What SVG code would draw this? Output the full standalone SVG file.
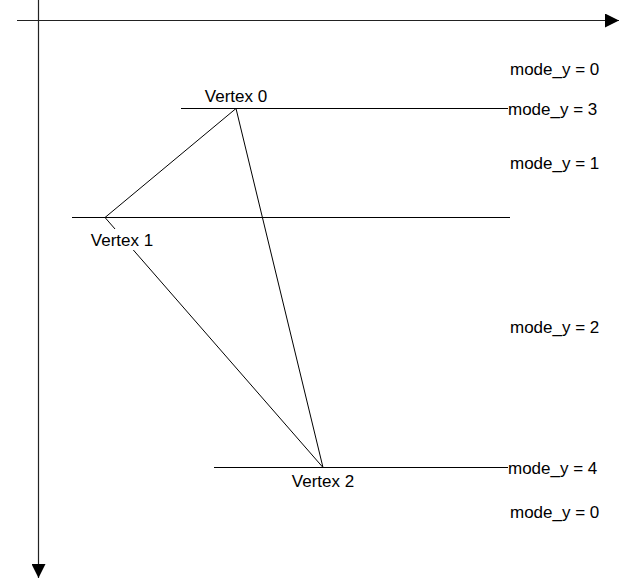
<svg xmlns="http://www.w3.org/2000/svg" width="625" height="578" viewBox="0 0 625 578">
  <style>
    .ln { stroke: #000; stroke-width: 1; fill: none; }
    .ax { stroke: #222; stroke-width: 1.2; fill: none; }
    .t { font-family: "Liberation Sans", Arial, sans-serif; font-size: 17px; fill: #000; }
    .lbl { fill: #fff; }
  </style>
  <defs>
    <marker id="ah" markerWidth="14" markerHeight="14" refX="14" refY="7" orient="auto" markerUnits="userSpaceOnUse">
      <path d="M0,0 L14,7 L0,14 Z" fill="#000"/>
    </marker>
  </defs>

  <!-- axes -->
  <g id="axes">
    <line class="ax" x1="17" y1="20.5" x2="619" y2="20.5" marker-end="url(#ah)"/>
    <line class="ax" x1="38.5" y1="0" x2="38.5" y2="578" marker-end="url(#ah)"/>
  </g>

  <!-- scanline levels -->
  <g id="levels">
    <line class="ln" x1="181" y1="108.5" x2="508" y2="108.5"/>
    <line class="ln" x1="72" y1="217.5" x2="510" y2="217.5"/>
    <line class="ln" x1="214" y1="467.5" x2="508" y2="467.5"/>
  </g>

  <!-- triangle edges -->
  <g id="connectors">
    <line class="ln" x1="236" y1="108.5" x2="105" y2="217.5"/>
    <line class="ln" x1="236" y1="108.5" x2="323" y2="467.5"/>
    <line class="ln" x1="105" y1="217.5" x2="323" y2="467.5"/>
  </g>

  <!-- vertices -->
  <g id="vertex0">
    <text class="t" x="236" y="102" text-anchor="middle">Vertex 0</text>
  </g>
  <g id="vertex1">
    <rect class="lbl" x="80" y="229" width="84" height="21"/>
    <text class="t" x="122" y="246" text-anchor="middle">Vertex 1</text>
  </g>
  <g id="vertex2">
    <text class="t" x="323" y="487" text-anchor="middle">Vertex 2</text>
  </g>

  <!-- mode labels -->
  <g id="modes">
    <text class="t" x="510" y="75">mode_y = 0</text>
    <text class="t" x="508" y="115">mode_y = 3</text>
    <text class="t" x="510" y="169">mode_y = 1</text>
    <text class="t" x="510" y="333">mode_y = 2</text>
    <text class="t" x="508" y="474">mode_y = 4</text>
    <text class="t" x="510" y="518">mode_y = 0</text>
  </g>
</svg>
